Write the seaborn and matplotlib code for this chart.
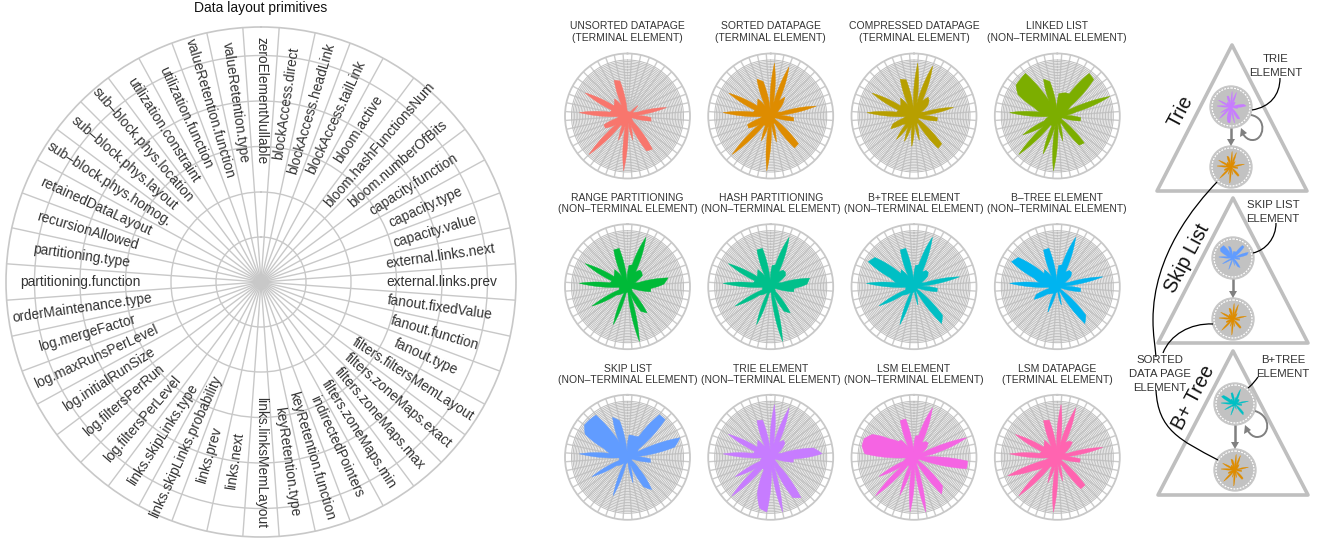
import numpy as np
import pandas as pd
import matplotlib
matplotlib.use("Agg")
import matplotlib.pyplot as plt
from matplotlib.path import Path
from matplotlib.patches import PathPatch, Polygon, Circle
import seaborn as sns

primitives = ["zeroElementNullable", "blockAccess.direct", "blockAccess.headLink", "blockAccess.tailLink",
    "bloom.active", "bloom.hashFunctionsNum", "bloom.numberOfBits", "capacity.function", "capacity.type",
    "capacity.value", "external.links.next", "external.links.prev", "fanout.fixedValue", "fanout.function",
    "fanout.type", "filters.filtersMemLayout", "filters.zoneMaps.exact", "filters.zoneMaps.max",
    "filters.zoneMaps.min", "indirectedPointers", "keyRetention.function", "keyRetention.type",
    "links.linksMemLayout", "links.next", "links.prev", "links.skipLinks.probability", "links.skipLinks.type",
    "log.filtersPerLevel", "log.filtersPerRun", "log.initialRunSize", "log.maxRunsPerLevel", "log.mergeFactor",
    "orderMaintenance.type", "partitioning.function", "partitioning.type", "recursionAllowed",
    "retainedDataLayout", "sub\u2013block.phys.homog.", "sub\u2013block.phys.layout", "sub\u2013block.phys.location",
    "utilization.constraint", "utilization.function", "valueRetention.function", "valueRetention.type"]

unsorted_page = [.08,.08,.08,.08,.10,.26,.12,.12,.20,.71,.15,.42,.43,.10,.08,.10,.15,.74,.71,.15,.44,.10,.98,.15,.46,.20,.20,.97,.25,.45,.45,.20,.15,.86,.32,.30,.86,.30,.33,.38,.20,.68,.64,.10]
sorted_page   = [.94,.20,.93,.30,.42,.30,.18,.14,.20,.83,.15,.41,.42,.10,.08,.10,.70,.71,.14,.15,.47,.10,.98,.15,.47,.20,.20,.97,.25,.45,.44,.20,.15,.85,.32,.30,.85,.30,.33,.38,.20,.70,.63,.10]
compressed    = [.94,.20,.95,.30,.42,.38,.30,.14,.20,.72,.15,.42,.42,.10,.08,.10,.70,.72,.14,.15,.44,.12,.54,.15,.48,.20,.52,.20,.25,.47,.40,.20,.15,.84,.32,.30,.85,.30,.33,.40,.20,.70,.66,.10]
linked_list   = [.40,.42,.44,.45,.95,.92,.30,.20,1.0,.35,.15,.42,.42,.10,.08,.10,.68,.65,.14,.15,.45,.12,.98,.15,.72,.20,.20,.97,.30,.70,.25,.20,.15,.85,.32,.45,.80,.92,.93,.95,.30,.70,.63,.12]
range_part    = [.38,.40,.94,.30,.37,.36,.33,.14,.20,.74,.65,.42,.42,.10,.08,.10,.12,.58,.50,.10,1.0,.10,.10,.12,.72,.12,.15,.20,.25,.72,.16,.15,.15,.86,.32,.30,.86,.30,.33,.38,.20,.70,.70,.10]
hash_part     = [.38,.40,.94,.30,.37,.37,.33,.14,.20,.71,.65,.42,.42,.10,.08,.10,.12,.58,.50,.10,1.0,.10,.10,.12,.72,.12,.15,.20,.25,.72,.16,.15,.15,.85,.32,.30,.86,.30,.33,.38,.20,.70,.70,.10]
bplus_tree    = [.38,.40,.94,.30,.36,.36,.30,.14,.20,.83,.12,.42,.42,.08,.06,.08,.72,.82,.10,.08,.33,.08,.10,.12,.72,.12,.15,.20,.25,.71,.16,.15,.15,.85,.32,.45,.93,.87,.33,.38,.20,.70,.70,.10]
b_tree        = [.38,.40,.94,.30,.36,.36,.30,.14,.20,.83,.12,.42,.42,.08,.06,.08,.72,.82,.10,.08,.33,.08,.10,.12,.48,.14,.15,.18,.22,.47,.40,.15,.15,.85,.32,.45,.93,.87,.33,.38,.20,.70,.70,.10]
skip_list     = [.40,.40,.40,.42,.95,.95,.25,.20,1.0,.86,.15,.41,.42,.10,.08,.10,.30,.72,.60,.10,.46,.08,.10,.12,.73,.12,.15,.20,.25,.72,.16,.15,.15,.86,.32,.45,.86,.96,.95,.94,.30,.76,.67,.10]
trie_element  = [.94,.20,.94,.30,.38,.36,.25,.14,.20,.78,.92,.41,.41,.10,.08,.10,.20,.90,.82,.10,1.0,.14,.98,.93,.68,.25,.25,.98,.30,.72,.20,.18,.15,.85,.32,.30,.86,.30,.33,.38,.20,.70,.68,.10]
lsm_element   = [.38,.40,.94,.30,.35,.36,.28,.14,1.0,.45,.12,.96,.96,.10,.08,.10,.72,.82,.12,.12,1.0,.12,.97,.15,.72,.18,.18,.97,.25,.71,.20,.16,.15,.88,.95,.95,.85,.55,.40,.38,.20,.70,.70,.10]
lsm_datapage  = [.94,.20,.94,.30,.36,.38,.25,.14,.20,.83,.15,.41,.41,.10,.08,.10,.70,.70,.14,.15,.43,.10,.98,.15,.48,.20,.20,.97,.30,.50,.94,.20,.15,.85,.32,.30,.85,.30,.33,.38,.20,.70,.68,.10]

element_series = [unsorted_page, sorted_page, compressed, linked_list, range_part, hash_part,
                  bplus_tree, b_tree, skip_list, trie_element, lsm_element, lsm_datapage]
element_titles = ["UNSORTED DATAPAGE\n(TERMINAL ELEMENT)", "SORTED DATAPAGE\n(TERMINAL ELEMENT)",
    "COMPRESSED DATAPAGE\n(TERMINAL ELEMENT)", "LINKED LIST\n(NON\u2013TERMINAL ELEMENT)",
    "RANGE PARTITIONING\n(NON\u2013TERMINAL ELEMENT)", "HASH PARTITIONING\n(NON\u2013TERMINAL ELEMENT)",
    "B+TREE ELEMENT\n(NON\u2013TERMINAL ELEMENT)", "B\u2013TREE ELEMENT\n(NON\u2013TERMINAL ELEMENT)",
    "SKIP LIST\n(NON\u2013TERMINAL ELEMENT)", "TRIE ELEMENT\n(NON\u2013TERMINAL ELEMENT)",
    "LSM ELEMENT\n(NON\u2013TERMINAL ELEMENT)", "LSM DATAPAGE\n(TERMINAL ELEMENT)"]
element_colors = ["#F8766D", "#DE8C00", "#B79F00", "#7CAE00", "#00BA38", "#00C08B",
                  "#00BFC4", "#00B4F0", "#619CFF", "#C77CFF", "#F564E3", "#FF64B0"]

W, H = 1332, 544
sns.set_theme(style="white")
plt.rcParams["font.family"] = ["Liberation Sans", "DejaVu Sans"]
TXT = "#333333"
GRID = "#c8c8c8"
palette = sns.color_palette(element_colors)

fig = plt.figure(figsize=(W / 100, H / 100), dpi=100, facecolor="white")


def polar_axes(cx, cy, r, zorder=1):
    ax = fig.add_axes([(cx - r) / W, 1 - (cy + r) / H, 2 * r / W, 2 * r / H],
                      projection="polar", zorder=zorder)
    ax.set_theta_zero_location("N")
    ax.set_theta_direction(-1)
    ax.patch.set_alpha(0)
    ax.set_xticklabels([])
    ax.set_yticklabels([])
    ax.tick_params(length=0, pad=0)
    return ax


n = len(primitives)
spokes = (np.arange(n) + 0.5) * 2 * np.pi / n


def star(ax, values, color, rmax, lw=0.3):
    t = np.r_[spokes, spokes[0] + 2 * np.pi]
    v = np.r_[values, values[0]]
    df = pd.DataFrame({"theta": t, "value": v})
    poly = ax.fill(t, v, color=color, lw=0, zorder=3)[0]
    # edges run linearly in (theta, r), as a polar coordinate system draws them
    poly.get_path()._interpolation_steps = 24
    before = len(ax.lines)
    sns.lineplot(data=df, x="theta", y="value", ax=ax, color=color, lw=lw,
                 sort=False, estimator=None, zorder=3, legend=False)
    for line in ax.lines[before:]:
        line.get_path()._interpolation_steps = 24
    ax.set_xlabel("")
    ax.set_ylabel("")
    ax.set_ylim(0, rmax)


# large labelled wheel
R_big = 255
big = polar_axes(261, 282, R_big)
big.set_ylim(0, R_big)
big.set_xticks(spokes)
big.set_yticks([45, 90, 135.5, 181, 226.5])
big.set_xticklabels([])
big.set_yticklabels([])
big.grid(True, color=GRID, lw=1.0)
big.spines["polar"].set_color(GRID)
big.spines["polar"].set_linewidth(1.2)
for i, label in enumerate(primitives):
    deg = i * 360 / n
    rot = 90 - deg if 0 < deg <= 180 else 270 - deg
    big.text(np.deg2rad(deg), 181, label, rotation=rot, rotation_mode="anchor",
             ha="center", va="center", fontsize=9.9, color=TXT, zorder=5)
fig.text(261 / W, 1 - 8 / H, "Data layout primitives", ha="center", va="center",
         fontsize=10, color="#111111")

# small multiples
xs = [627.5, 770.7, 914, 1057.3]
ys = [116, 286.7, 457.3]
title_y = [[26, 38], [198, 209], [369, 380]]
R_outer, R_inner = 62.5, 56.0
for idx, (vals, title) in enumerate(zip(element_series, element_titles)):
    row, col = divmod(idx, 4)
    ax = polar_axes(xs[col], ys[row], R_outer)
    rmax = R_outer / R_inner
    ax.set_xticks(spokes)
    ax.set_yticks(np.linspace(0.03, 1, 36))
    ax.set_xticklabels([])
    ax.set_yticklabels([])
    ax.yaxis.grid(True, color="#bebebe", lw=0.7)
    ax.xaxis.grid(True, color="#cccccc", lw=1.0)
    ax.spines["polar"].set_color(GRID)
    ax.spines["polar"].set_linewidth(1.3)
    star(ax, vals, palette[idx], rmax)
    a, b = title.split("\n")
    fig.text(xs[col] / W, 1 - title_y[row][0] / H, a, ha="center", va="center", fontsize=7.5, color=TXT)
    fig.text(xs[col] / W, 1 - title_y[row][1] / H, b, ha="center", va="center", fontsize=7.5, color=TXT)

# schematic panel in pixel coordinates
sch = fig.add_axes([0, 0, 1, 1], zorder=2)
sch.set_xlim(0, W)
sch.set_ylim(H, 0)
sch.axis("off")
sch.patch.set_alpha(0)
triangle_c = "#bfbfbf"
for apex, base_y, xl, xr in [((1232, 45), 191, 1157, 1307), ((1233, 198), 343, 1158, 1308), ((1233, 351), 495, 1158, 1308)]:
    sch.add_patch(Polygon([apex, (xl, base_y), (xr, base_y)], closed=True, fill=False,
                          ec=triangle_c, lw=2.6, joinstyle="round"))

nodes = [(1231, 107, 9), (1231, 167, 1), (1233, 258, 8), (1233, 319, 1), (1235, 404, 6), (1235, 470, 1)]
for cx, cy, s in nodes:
    sch.add_patch(Circle((cx, cy), 21, fc="#c2c2c2", ec="#c8c8c8", lw=1.0))
    sch.add_patch(Circle((cx, cy), 19, fill=False, ec="white", lw=0.9, ls=(0, (1.5, 1))))
    m = polar_axes(cx, cy, 16.5, zorder=3)
    m.set_xticks([])
    m.set_yticks([])
    m.grid(False)
    m.spines["polar"].set_visible(False)
    star(m, element_series[s], palette[s], 1.0, lw=0.2)


def curve(pts, **kw):
    codes = [Path.MOVETO] + [Path.CURVE4] * (len(pts) - 1)
    sch.add_patch(PathPatch(Path(pts, codes), fill=False, **kw))


for pts in [
    [(1280, 78), (1280, 95), (1270, 107), (1252, 110)],
    [(1276, 223), (1276, 238), (1266, 250), (1253, 253)],
    [(1258, 377), (1255, 381), (1252, 385), (1248, 388)],
    [(1217, 182), (1195, 205), (1153, 255), (1153, 320), (1153, 335), (1155, 345), (1156, 357)],
    [(1213, 324), (1190, 323), (1170, 335), (1163, 353)],
    [(1156, 390), (1158, 430), (1180, 440), (1218, 460)],
]:
    curve(pts, ec="black", lw=0.9)

arrow_c = "#808080"
for (x0, y0, x1, y1) in [(1231, 128, 1231, 146), (1233, 279, 1233, 298), (1235, 425, 1235, 449)]:
    sch.plot([x0, x0], [y0, y1 - 5], color=arrow_c, lw=1.8, solid_capstyle="butt")
    sch.add_patch(Polygon([(x1 - 4, y1 - 7), (x1 + 4, y1 - 7), (x1, y1)], closed=True, fc=arrow_c, ec="none"))
for pts, head in [
    ([(1251, 115), (1268, 118), (1264, 141), (1252, 140), (1248, 140), (1245, 137), (1243, 134)],
     [(1241, 128), (1247, 133), (1240, 137)]),
    ([(1255, 411), (1272, 416), (1270, 437), (1257, 437), (1253, 437), (1250, 434), (1248, 431)],
     [(1245, 425), (1251, 430), (1244, 434)]),
]:
    curve(pts, ec=arrow_c, lw=1.4)
    sch.add_patch(Polygon(head, closed=True, fc=arrow_c, ec="none"))

for x, y, s in [(1181, 112, "Trie"), (1187, 258, "Skip List"), (1194, 398, "B+ Tree")]:
    sch.text(x, y, s, rotation=62, rotation_mode="anchor", ha="center", va="center",
             fontsize=14.2, color="#111111")
for x, lines in [(1276, [(59, "TRIE"), (73, "ELEMENT")]), (1273, [(205, "SKIP LIST"), (219, "ELEMENT")]),
                 (1160, [(360, "SORTED"), (374, "DATA PAGE"), (388, "ELEMENT")]),
                 (1283, [(360, "B+TREE"), (374, "ELEMENT")])]:
    for y, s in lines:
        sch.text(x, y, s, ha="center", va="center", fontsize=8.2, color=TXT)

fig.savefig("out.png", dpi=100)
